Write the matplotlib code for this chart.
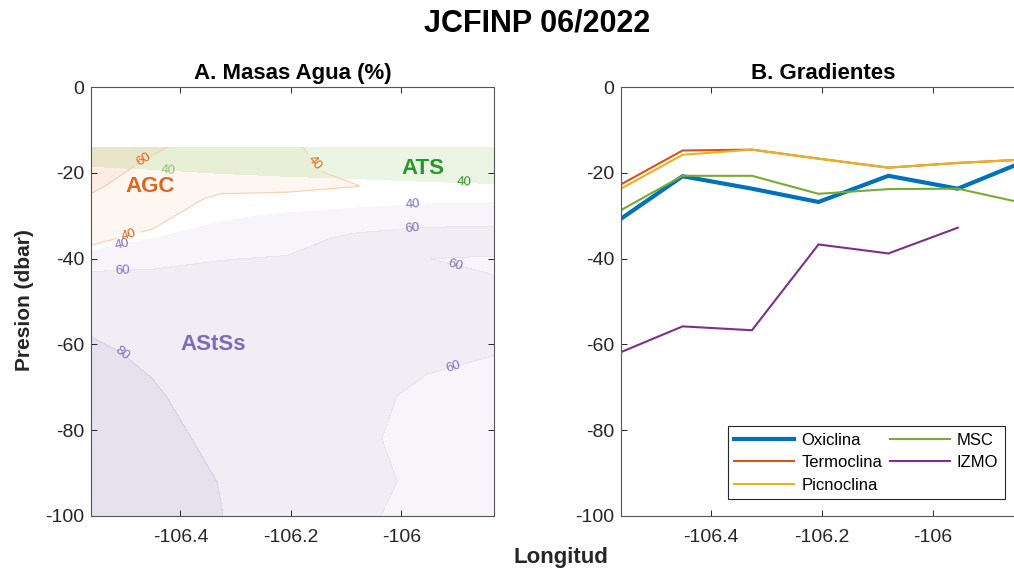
import numpy as np
import matplotlib
matplotlib.use("Agg")
import matplotlib.pyplot as plt

plt.rcParams['font.family'] = ['Liberation Sans', 'DejaVu Sans']

# Station longitudes (transect) and pressure levels (dbar)
lon = [-106.562, -106.451, -106.326, -106.206, -106.080, -105.955, -105.832]
pres = [14, 17, 20, 23, 26, 30, 35, 40, 45, 52, 62, 72, 82, 92, 100]

# Water-mass fractions (%) -- rows: pressure levels, columns: stations
ats = [
    [55, 56, 57, 58, 58, 58, 59],
    [47, 48, 50, 52, 55, 56, 58],
    [33, 37, 40.5, 43, 45, 48, 50],
    [22, 26, 30, 32, 34, 36, 38],
    [15, 18, 20, 22, 24, 26, 28],
    [10, 12, 13, 14, 15, 16, 17],
    [6, 7, 8, 8, 9, 9, 10],
    [4, 4, 5, 5, 5, 6, 6],
    [3, 3, 3, 3, 4, 4, 4],
    [2, 2, 2, 2, 2, 2, 2],
    [1, 1, 1, 1, 1, 1, 1],
    [1, 1, 1, 1, 1, 1, 1],
    [1, 1, 1, 1, 1, 1, 1],
    [1, 1, 1, 1, 1, 1, 1],
    [1, 1, 1, 1, 1, 1, 1],
]
agc = [
    [72, 63, 50, 45, 23, 15, 10],
    [69, 58.5, 50, 47, 27, 18, 12],
    [66, 55, 49, 48, 33, 22, 15],
    [62.5, 52, 45, 44, 40.5, 28, 18],
    [58.5, 49, 37, 36, 33, 24, 16],
    [52, 45, 30, 28, 26, 18, 12],
    [43, 37, 24, 20, 18, 13, 9],
    [35, 30, 18, 15, 13, 9, 6],
    [28, 24, 14, 11, 10, 7, 5],
    [22, 18, 11, 9, 8, 5, 4],
    [14, 12, 8, 6, 5, 4, 3],
    [9, 8, 6, 5, 4, 3, 2],
    [6, 5, 4, 4, 3, 2, 2],
    [4, 4, 3, 3, 2, 2, 1],
    [3, 3, 2, 2, 2, 1, 1],
]
astss = [
    [2, 2, 2, 2, 2, 2, 2],
    [3, 3, 3, 3, 4, 4, 4],
    [5, 5, 5, 6, 7, 8, 9],
    [8, 9, 10, 12, 15, 18, 20],
    [12, 14, 18, 25, 30, 34, 37],
    [20, 24, 36, 43, 48, 53, 49],
    [31, 39, 50, 54, 63, 66, 71],
    [45, 54, 59.5, 61, 65, 60.1, 58.5],
    [70, 66, 65, 64, 66, 62, 60.5],
    [75, 71, 68, 66, 67, 64, 64],
    [83, 77, 70, 68, 67, 63, 60.5],
    [86, 82, 72, 70, 64.1, 57, 52],
    [88, 84, 77, 71, 62.8, 55, 50],
    [89, 86, 79.6, 72, 66.9, 55, 50],
    [90, 87, 80.2, 72, 62.6, 55, 50],
]

# Gradient depths per station (dbar, negative down)
oxiclina = [-30.7, -20.8, -23.7, -26.8, -20.7, -23.7, -17.2]
termoclina = [-22.7, -14.8, -14.6, -16.7, -18.8, -17.7, -16.9]
picnoclina = [-23.7, -15.8, -14.6, -16.7, -18.8, -17.7, -16.9]
msc = [-28.7, -20.7, -20.7, -24.9, -23.8, -23.7, -27.2]
izmo = [-61.8, -55.8, -56.7, -36.7, -38.8, -32.8, np.nan]

levels = [40, 60, 80, 100.5]
ink = '#262626'

fig = plt.figure(figsize=(10.14, 5.71), dpi=100)
W, H = 1014.0, 571.0
ax1 = fig.add_axes([91 / W, 55 / H, 403 / W, 429 / H])
ax2 = fig.add_axes([621 / W, 55 / H, 405 / W, 429 / H])

X, Y = np.meshgrid(lon, -np.array(pres, dtype=float))
ATS = np.array(ats, dtype=float)
AGC = np.array(agc, dtype=float)
AST = np.array(astss, dtype=float)


def shades(rgb, alphas):
    return [(rgb[0], rgb[1], rgb[2], a) for a in alphas]


purple = (0.54, 0.42, 0.66)
orange = (0.95, 0.52, 0.22)
green = (0.50, 0.80, 0.32)

ax1.contourf(X, Y, AST, levels=levels, colors=shades(purple, [0.065, 0.12, 0.20]))
ax1.contourf(X, Y, AGC, levels=levels, colors=shades(orange, [0.07, 0.15, 0.25]))
ax1.contourf(X, Y, ATS, levels=levels, colors=shades(green, [0.16, 0.26, 0.36]))

# contour lines and labels
cs_ast = ax1.contour(X, Y, AST, levels=[40, 60, 80], colors='none')
ax1.clabel(cs_ast, fmt='%d', fontsize=9.5, colors='#7f74c0', inline=True,
           manual=[(-106.504, -37.3), (-106.504, -43.1), (-105.979, -27.8),
                   (-105.979, -33.0), (-105.900, -40.8), (-106.504, -62.0),
                   (-105.908, -64.1)])

cs_agc = ax1.contour(X, Y, AGC, levels=[40, 60], colors='#f9d0b4', linewidths=0.8)
ax1.clabel(cs_agc, fmt='%d', fontsize=9.5, colors='#e0661c', inline=True,
           manual=[(-106.467, -16.6), (-106.495, -33.8), (-106.159, -18.0)])

cs_ats = ax1.contour(X, Y, ATS, levels=[40], colors='none')
ats_txt = ax1.clabel(cs_ats, fmt='%d', fontsize=9.5, colors='#2e9a2e', inline=True,
                     manual=[(-106.421, -19.0), (-105.886, -22.8)])
for t in ats_txt:
    if t.get_position()[0] < -106.2:
        t.set_color('#8cc474')

ax1.text(-106.454, -23.1, 'AGC', color='#e0661c', fontsize=16, fontweight='bold',
         ha='center', va='center')
ax1.text(-105.960, -19.0, 'ATS', color='#2a962a', fontsize=16, fontweight='bold',
         ha='center', va='center')
ax1.text(-106.340, -60.0, 'AStSs', color='#7a6cb8', fontsize=16, fontweight='bold',
         ha='center', va='center')

# gradient lines
ax2.plot(lon, oxiclina, color='#0072bd', lw=3.0, label='Oxiclina')
ax2.plot(lon, termoclina, color='#d95319', lw=1.5, label='Termoclina')
ax2.plot(lon, picnoclina, color='#edb120', lw=1.5, label='Picnoclina')
ax2.plot(lon, msc, color='#77ac30', lw=1.5, label='MSC')
ax2.plot(lon, izmo, color='#7e2f8e', lw=1.5, label='IZMO')

leg = ax2.legend(loc='lower right', bbox_to_anchor=(0.948, 0.039), borderaxespad=0,
                 ncol=2, fontsize=12, handlelength=3.6, handletextpad=0.42,
                 columnspacing=0.45, labelspacing=0.44, borderpad=0.4,
                 fancybox=False, framealpha=1, edgecolor=ink)
leg.get_frame().set_linewidth(0.8)

for ax in (ax1, ax2):
    ax.set_xlim(lon[0], lon[-1])
    ax.set_ylim(-100, 0)
    ax.set_xticks([-106.4, -106.2, -106.0])
    ax.set_xticklabels(['-106.4', '-106.2', '-106'])
    ax.set_yticks([0, -20, -40, -60, -80, -100])
    ax.set_yticklabels(['0', '-20', '-40', '-60', '-80', '-100'])
    ax.tick_params(direction='in', top=True, right=True, length=4.5, width=0.7,
                   colors=ink, labelsize=14)
    ax.tick_params(axis='x', pad=9)
    ax.tick_params(axis='y', pad=5)
    for s in ax.spines.values():
        s.set_color('#555555')
        s.set_linewidth(0.8)

ax1.set_title('A. Masas Agua (%)', fontsize=16, fontweight='bold', pad=6)
ax2.set_title('B. Gradientes', fontsize=16, fontweight='bold', pad=6)

fig.text(537 / W, 1 - 24 / H, 'JCFINP 06/2022', fontsize=22, fontweight='bold',
         ha='center', va='center')
fig.text(561 / W, 1 - 558 / H, 'Longitud', fontsize=16, fontweight='bold',
         ha='center', va='center', color=ink)
fig.text(25 / W, 1 - 300 / H, 'Presion (dbar)', fontsize=15, fontweight='bold',
         ha='center', va='center', rotation=90, color=ink)

fig.savefig('out.png', dpi=100)
